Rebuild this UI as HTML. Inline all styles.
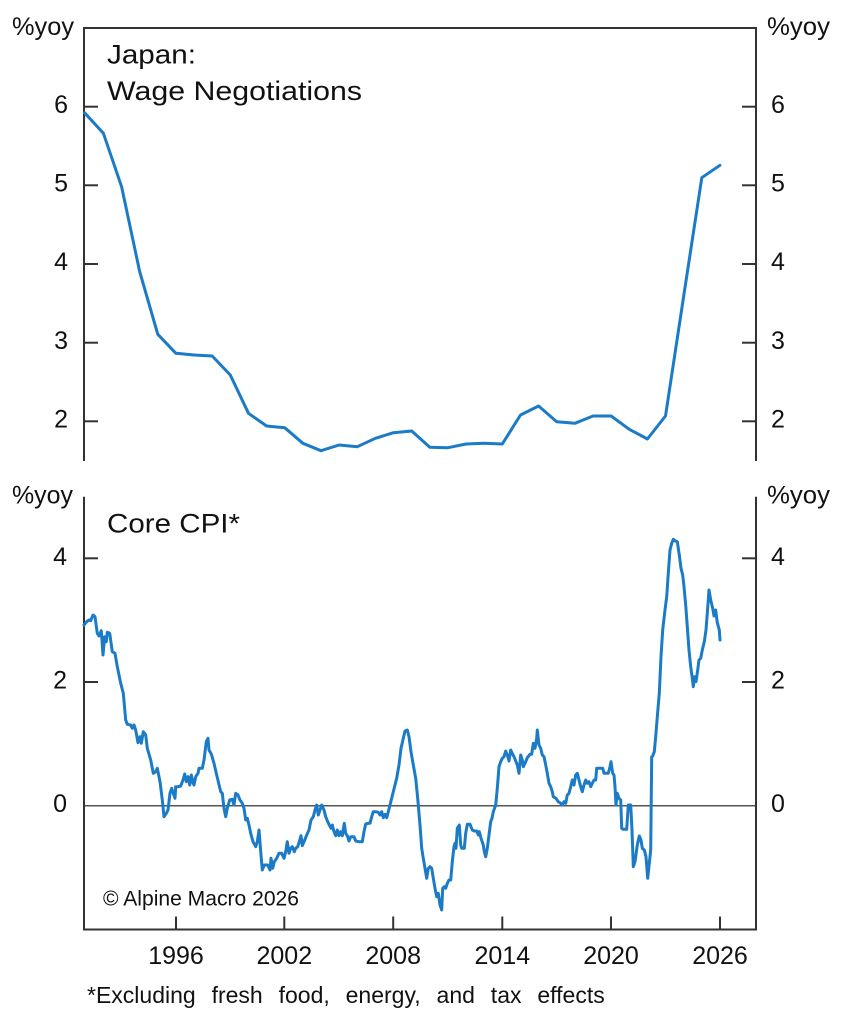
<!DOCTYPE html>
<html>
<head>
<meta charset="utf-8">
<style>
html,body{margin:0;padding:0;background:#fff;}
svg{display:block;}
text{font-family:"Liberation Sans",Arial,sans-serif;fill:#111;}
</style>
</head>
<body>
<svg width="842" height="1024" viewBox="0 0 842 1024" xmlns="http://www.w3.org/2000/svg">
<rect width="842" height="1024" fill="#fff"/>

<!-- ===== TOP PANEL ===== -->
<g stroke="#333" stroke-width="2" fill="none">
  <polyline points="84,461 84,28 756,28 756,461"/>
  <line x1="84" y1="106.7" x2="98" y2="106.7"/>
  <line x1="84" y1="185.3" x2="98" y2="185.3"/>
  <line x1="84" y1="264" x2="98" y2="264"/>
  <line x1="84" y1="342.7" x2="98" y2="342.7"/>
  <line x1="84" y1="421.3" x2="98" y2="421.3"/>
  <line x1="742" y1="106.7" x2="756" y2="106.7"/>
  <line x1="742" y1="185.3" x2="756" y2="185.3"/>
  <line x1="742" y1="264" x2="756" y2="264"/>
  <line x1="742" y1="342.7" x2="756" y2="342.7"/>
  <line x1="742" y1="421.3" x2="756" y2="421.3"/>
</g>
<g font-size="25">
  <text x="12" y="35" textLength="62" lengthAdjust="spacingAndGlyphs">%yoy</text>
  <text x="767" y="35" textLength="63" lengthAdjust="spacingAndGlyphs">%yoy</text>
  <g text-anchor="end">
    <text x="68" y="113">6</text>
    <text x="68" y="191.5">5</text>
    <text x="68" y="270">4</text>
    <text x="68" y="349">3</text>
    <text x="68" y="427.5">2</text>
  </g>
  <text x="771" y="113">6</text>
  <text x="771" y="191.5">5</text>
  <text x="771" y="270">4</text>
  <text x="771" y="349">3</text>
  <text x="771" y="427.5">2</text>
</g>
<text x="107" y="63.3" font-size="27" textLength="89" lengthAdjust="spacingAndGlyphs">Japan:</text>
<text x="107" y="100" font-size="27" textLength="255" lengthAdjust="spacingAndGlyphs">Wage Negotiations</text>

<polyline fill="none" stroke="#1b7bc6" stroke-width="3" stroke-linejoin="round" stroke-linecap="round"
points="84.5,112.7 103.4,133.3 121.6,186.7 139.7,271.7 157.8,334.3 175.9,353.3 194.1,355 212.2,356 230.3,375 248.5,413.3 266.6,426 284.7,427.7 302.9,443.3 321,450.7 339.1,445 357.3,446.7 375.4,438.3 393.5,432.7 411.7,431 429.8,447.3 447.9,447.7 466.1,444 484.2,443.3 502.3,444 520.5,415 538.6,406 556.7,421.7 574.9,423.3 593,416 611.1,416 629.3,429.3 647.4,439 665.5,416 683.7,296 701.8,177.7 719.9,165.3"/>

<!-- ===== BOTTOM PANEL ===== -->
<line x1="84" y1="805.7" x2="756" y2="805.7" stroke="#555" stroke-width="1.5"/>
<g stroke="#333" stroke-width="2" fill="none">
  <polyline points="84,496.7 84,929.5 756,929.5 756,496.7"/>
  <line x1="84" y1="558.3" x2="98" y2="558.3"/>
  <line x1="84" y1="682" x2="98" y2="682"/>
  <line x1="742" y1="558.3" x2="756" y2="558.3"/>
  <line x1="742" y1="682" x2="756" y2="682"/>
  <line x1="176" y1="916.5" x2="176" y2="929.5"/>
  <line x1="284.3" y1="916.5" x2="284.3" y2="929.5"/>
  <line x1="393.2" y1="916.5" x2="393.2" y2="929.5"/>
  <line x1="502.3" y1="916.5" x2="502.3" y2="929.5"/>
  <line x1="611" y1="916.5" x2="611" y2="929.5"/>
  <line x1="720" y1="916.5" x2="720" y2="929.5"/>
</g>
<g font-size="25">
  <text x="12" y="503.3" textLength="61" lengthAdjust="spacingAndGlyphs">%yoy</text>
  <text x="767" y="503.3" textLength="63" lengthAdjust="spacingAndGlyphs">%yoy</text>
  <g text-anchor="end">
    <text x="67" y="565">4</text>
    <text x="67" y="688.5">2</text>
    <text x="67" y="812">0</text>
  </g>
  <text x="771" y="565">4</text>
  <text x="771" y="688.5">2</text>
  <text x="771" y="812">0</text>
  <g text-anchor="middle">
    <text x="176" y="964">1996</text>
    <text x="284.3" y="964">2002</text>
    <text x="393.2" y="964">2008</text>
    <text x="502.3" y="964">2014</text>
    <text x="611" y="964">2020</text>
    <text x="720" y="964">2026</text>
  </g>
</g>
<text x="107" y="532.7" font-size="27" textLength="133" lengthAdjust="spacingAndGlyphs">Core CPI*</text>
<text x="103" y="905.7" font-size="21" textLength="196" lengthAdjust="spacingAndGlyphs">© Alpine Macro 2026</text>
<text x="87" y="1003" font-size="23" style="word-spacing:9.5px">*Excluding fresh food, energy, and tax effects</text>

<polyline fill="none" stroke="#1b7bc6" stroke-width="3" stroke-linejoin="round" stroke-linecap="round"
points="84,625 86.7,621.7 89,620 90.7,620.7 93,615 95,616.7 97.3,633.3 99,636 101.3,630.7 103,655 104.7,636.7 106.3,641.7 107.3,632.3 109.7,633.3 112.3,651.7 115,653.3 117.3,666.7 120.7,683.3 123.3,693.3 125.7,720 127.3,724.3 130.7,725 132.3,728.3 134,725 135.7,730 138,742.7 140,736.7 141.3,743.3 143.3,731.7 145.7,735 147.3,748.3 150.7,760 153.3,773.3 155.7,771.7 157.3,768.3 160,781.7 162.3,800 164,816.7 166.3,813.3 168,810 170,793.3 171.7,788.3 173.3,793.3 175,798.3 175.7,786.7 178.3,786.7 180.7,786 183,780 184.7,774 186.3,781.7 188,776.7 189.7,785 191.3,775 193,782.7 194,785 195.7,776.7 198,773.3 199,768.3 202.3,768.3 204,760 206.3,741.7 208,738.3 209,750 211.3,754 214,763.3 216.3,773.3 218.3,781.7 220.7,791.7 222.3,793.3 224,808.3 225.7,816.7 227.3,808.3 229.7,800 232.3,799.3 234,805 235.7,793.3 238,795 240,800 242.3,803.3 244,808.3 245.7,820 247.3,818.3 249,825 250.7,833.3 253,841.7 255.7,846.7 257.3,841.7 259,830 261,855 262.3,870 264.3,865 267.7,865 270,870 271,858.3 272.7,868.3 274.3,861.7 276.7,858.3 279,853.3 281.7,853.3 284,858.3 285.7,851.7 287.3,841.7 289,853.3 290.7,848.3 292.3,846.7 294.3,851.7 295.7,848.3 297.7,846.7 299.3,841.7 301,835.7 302.3,845.7 304.3,841 306.7,835 309,830 311,820 313.3,816.7 315,810 316.7,805 318.3,815 320,810 321.7,805 324,810 325.7,816.7 327.7,821.7 329.3,825 331,828.3 332.3,825 334,831.7 335.7,835.7 337.3,830 339,835.7 340.7,831.7 342.3,835.7 344.3,823.3 345.7,833.3 347.3,835.7 349,841 350.7,836.7 354,836.7 355.7,841 359,841.7 362.3,841.7 364,831.7 365.7,824 368.3,823.3 370,823.3 371.7,816.7 373.3,811.7 375.7,811.7 378.3,812.3 380,815 381.7,811.7 383.3,817.7 385,814.3 386.7,817.7 388.3,811.7 390,805 393.3,791.7 396.7,778.3 399,765 401,748.3 403.3,738.3 405,731 407.3,730 409,736.7 411,751.7 413.3,765 415.7,778.3 417.7,798.3 420,825 421.7,848.3 423.3,858.3 425,868.3 426.7,878.3 428.3,868.3 430,866.7 431.7,868.3 433.3,878.3 435,888.3 436.7,896.7 438.3,893.3 440,905 441.7,910 442.7,888.3 444.3,886.7 445.7,888.3 447.3,883.3 449,880 450.7,880 452.3,861.7 454,846.7 455,843.3 456,848.3 457.3,828.3 459.3,825 460.7,845 461.7,848.3 464.3,848.3 465.7,833.3 467.3,824.3 470,824.3 472.3,830 474.3,831 476.7,831 478.3,835 479.3,831.7 481,838.3 483.3,845 484.3,851.7 485.7,856.7 487.3,848.3 489,835 490.7,821.7 492,818.3 493.3,811.7 495.7,805 497.3,788.3 499,766.7 500.7,761.7 502.3,758.3 504,756.7 505.7,751 507.3,755 509,761 510.7,750 512.7,754.3 514,756.7 515.7,761 517.3,765 519,773.3 520.7,755 522.3,760 523.3,766.7 525.7,761.7 527.3,757.7 530,754.3 531.7,754.3 533.3,743.3 535,748.3 536.7,738.3 537.3,730 539,745 540.7,748.3 542.3,755 544,756.7 545.7,765 547.3,773.3 549,783.3 550.7,786.7 552.3,791.7 553.3,796.7 556,798.3 558.3,801.7 560.7,803.3 562.3,805 564,801.7 565.7,803.3 567.3,795 569,793.3 570.7,786.7 572.3,780 574,785 575.7,775 577.3,773.3 579,780 580.7,786.7 582.3,791.7 584,785 585.7,780 587.3,783.3 589,781.7 590.7,786.7 592.3,783.3 594,780 595.7,780 596.7,768.3 599,768.3 600.7,768.3 602.7,768.3 604,773.3 606.7,773.3 608.3,773.3 610,766.7 611,761.7 612.7,773.3 614,775 615,786.7 616,805 617.3,793.3 619,798.3 620.7,800 621.7,828.3 623.3,829.3 626.7,829.3 628.3,805 630.7,805 632,830 633.3,866.7 635,861.7 637.3,845 639.3,836 641,840 642.3,848.3 644.3,850 646,856.7 647.7,878.3 649.3,863.3 650.7,850 651.7,756.7 652.7,756 654.3,751.7 655.7,736.7 657.3,716.7 659.3,693.3 661,656.7 662.7,630 665,610 666.7,596.7 668.3,573.3 670,550 671.7,543.3 673.3,539.3 675,540.7 677.3,541.7 679.3,555 681,568.3 682.7,575 684,586.7 685.7,605 687.3,626.7 689,650 690.7,666.7 692.3,678.3 693.3,686.7 694.3,676.7 696,681.7 697.7,670 699,660 700.7,658.3 702.3,650 704.3,641.7 706,630 707.3,613.3 709,590 710.7,600 712.7,608.3 714,616 715.7,610 717.3,622.7 719.3,630 720,640"/>
</svg>
</body>
</html>
